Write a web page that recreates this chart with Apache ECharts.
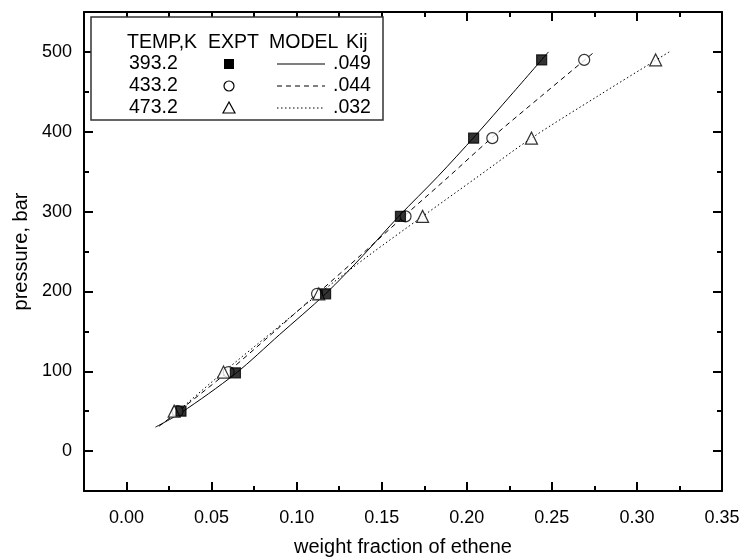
<!DOCTYPE html>
<html><head><meta charset="utf-8">
<script src="https://cdn.jsdelivr.net/npm/echarts@6/dist/echarts.min.js"></script>
<style>html,body{margin:0;padding:0;background:#fff}#c{width:743px;height:557px}</style>
</head><body><div id="c"></div>
<script>
// ---- data ----
var temps = ['393.2', '433.2', '473.2'];
var kij = ['.049', '.044', '.032'];
// experimental points [weight fraction, pressure]
var expt393 = [[0.032, 50], [0.064, 98], [0.117, 197], [0.161, 294], [0.204, 392], [0.244, 490]];
var expt433 = [[0.030, 50], [0.060, 99], [0.112, 197], [0.164, 294], [0.215, 392], [0.269, 490]];
var expt473 = [[0.028, 50], [0.057, 99], [0.113, 197], [0.174, 294], [0.238, 392], [0.311, 490]];
// model curves
var model393 = [[0.017, 30], [0.032, 48], [0.064, 97], [0.090, 146], [0.117, 197], [0.139, 245], [0.160, 294], [0.183, 344], [0.205, 395], [0.226, 446], [0.248, 500]];
var model433 = [[0.019, 31], [0.030, 49], [0.060, 100], [0.086, 148], [0.112, 197], [0.138, 246], [0.163, 294], [0.189, 343], [0.215, 393], [0.244, 445], [0.275, 500]];
var model473 = [[0.021, 34], [0.028, 46], [0.057, 99], [0.085, 148], [0.113, 197], [0.143, 246], [0.174, 294], [0.206, 343], [0.238, 392], [0.278, 446], [0.319, 500]];
var xMajor = [0, 0.05, 0.10, 0.15, 0.20, 0.25, 0.30, 0.35];
var xMinor = [0.025, 0.075, 0.125, 0.175, 0.225, 0.275, 0.325];
var yMajor = [0, 100, 200, 300, 400, 500];
var yMinor = [50, 150, 250, 350, 450];
var xRange = [-0.025, 0.35];
var yRange = [-50, 550];

var FONT = '"Liberation Sans", Arial, sans-serif';
var chart = echarts.init(document.getElementById('c'), null, {renderer: 'canvas'});

function xAx(pos, major, showLabel, showLine, len) {
  return {
    type: 'value', position: pos, min: xRange[0], max: xRange[1],
    splitLine: {show: false},
    axisLine: {show: showLine, onZero: false, lineStyle: {color: '#000', width: 2}},
    axisTick: {show: true, inside: true, length: len, customValues: major, lineStyle: {color: '#000', width: 2}},
    axisLabel: {show: showLabel, customValues: major, margin: 18, color: '#000', fontSize: 18, fontFamily: FONT,
      formatter: function (v) { return v.toFixed(2); }}
  };
}
function yAx(pos, major, showLabel, showLine, len) {
  return {
    type: 'value', position: pos, min: yRange[0], max: yRange[1],
    splitLine: {show: false},
    axisLine: {show: showLine, onZero: false, lineStyle: {color: '#000', width: 2}},
    axisTick: {show: true, inside: true, length: len, customValues: major, lineStyle: {color: '#000', width: 2}},
    axisLabel: {show: showLabel, customValues: major, margin: 12, color: '#000', fontSize: 18, fontFamily: FONT}
  };
}

var xAxes = [xAx('bottom', xMajor, true, true, 9), xAx('bottom', xMinor, false, false, 5),
             xAx('top', xMajor, false, true, 9), xAx('top', xMinor, false, false, 5)];
var yAxes = [yAx('left', yMajor, true, true, 9), yAx('left', yMinor, false, false, 5),
             yAx('right', yMajor, false, true, 9), yAx('right', yMinor, false, false, 5)];

function lineSeries(data, type) {
  return {type: 'line', data: data, smooth: 0.3, showSymbol: false, symbol: 'none', z: 2,
    lineStyle: {color: '#000', width: 1, type: type}};
}
function ptSeries(data, symbol, filled, size) {
  return {type: 'scatter', data: data, symbol: symbol, symbolSize: size, z: 3,
    itemStyle: {color: filled ? '#000' : '#fff', borderColor: '#000', borderWidth: 1.2}};
}

// legend layout (box and rows)
var legX = 91, legY = 17, legW = 292, legH = 103;
var rowY = [43, 64, 86, 108];
var LF = '19.5px ' + FONT;
var g = [];
g.push({type: 'rect', shape: {x: legX, y: legY, width: legW, height: legH}, style: {fill: '#fff', stroke: '#333', lineWidth: 1.5}, z: 10});
var headers = [['TEMP,K', 127], ['EXPT', 208], ['MODEL', 269], ['Kij', 346]];
headers.forEach(function (h) {
  g.push({type: 'text', x: h[1], y: rowY[0], z: 11, style: {text: h[0], fill: '#000', font: LF, align: 'left', verticalAlign: 'middle'}});
});
var dashes = ['solid', [5, 4], [1.5, 2.5]];
for (var i = 0; i < 3; i++) {
  var yy = rowY[i + 1];
  g.push({type: 'text', x: 129, y: yy, z: 11, style: {text: temps[i], fill: '#000', font: LF, align: 'left', verticalAlign: 'middle'}});
  g.push({type: 'text', x: 333, y: yy, z: 11, style: {text: kij[i], fill: '#000', font: LF, align: 'left', verticalAlign: 'middle'}});
  g.push({type: 'line', z: 11, shape: {x1: 277, y1: yy, x2: 325, y2: yy},
    style: {stroke: '#000', lineWidth: 1, lineDash: dashes[i] === 'solid' ? null : dashes[i]}});
}
var ex = 229;
g.push({type: 'rect', z: 11, shape: {x: ex - 5, y: rowY[1] - 5, width: 10, height: 10}, style: {fill: '#000'}});
g.push({type: 'circle', z: 11, shape: {cx: ex, cy: rowY[2], r: 5}, style: {fill: '#fff', stroke: '#000', lineWidth: 1.2}});
g.push({type: 'polygon', z: 11, shape: {points: [[ex, rowY[3] - 6], [ex - 6, rowY[3] + 5], [ex + 6, rowY[3] + 5]]}, style: {fill: '#fff', stroke: '#000', lineWidth: 1.2}});

chart.setOption({
  animation: false,
  backgroundColor: '#fff',
  grid: {left: 84, right: 21, top: 12, bottom: 66, containLabel: false, outerBoundsMode: 'none'},
  xAxis: xAxes.map(function (a, i) { if (i === 0) { a.name = 'weight fraction of ethene'; a.nameLocation = 'middle'; a.nameGap = 46; a.nameTextStyle = {fontSize: 20, fontFamily: FONT, color: '#000'}; } return a; }),
  yAxis: yAxes.map(function (a, i) { if (i === 0) { a.name = 'pressure, bar'; a.nameLocation = 'middle'; a.nameGap = 38; a.nameTextStyle = {fontSize: 20, fontFamily: FONT, color: '#000'}; } return a; }),
  series: [
    lineSeries(model393, 'solid'),
    lineSeries(model433, [5, 4]),
    lineSeries(model473, [1.5, 2.5]),
    ptSeries(expt433, 'circle', false, 11),
    ptSeries(expt473, 'triangle', false, 12),
    ptSeries(expt393, 'rect', true, 10)
  ],
  graphic: g
});
</script></body></html>
